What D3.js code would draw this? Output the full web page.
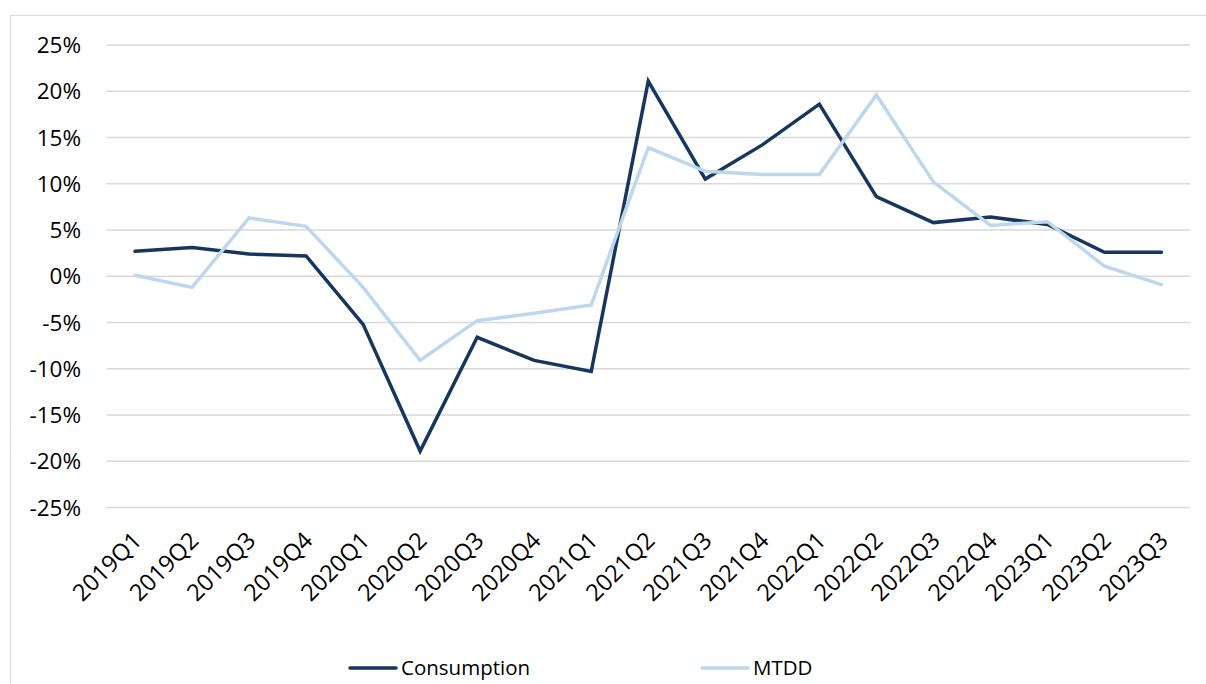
<!DOCTYPE html>
<html><head><meta charset="utf-8">
<script src="https://cdn.jsdelivr.net/npm/d3@7/dist/d3.min.js"></script>
<style>body{margin:0;background:#fff}svg{display:block}</style>
</head><body>
<svg id="c" width="1206" height="684"></svg>
<script>
const categories = ["2019Q1","2019Q2","2019Q3","2019Q4","2020Q1","2020Q2","2020Q3","2020Q4","2021Q1","2021Q2","2021Q3","2021Q4","2022Q1","2022Q2","2022Q3","2022Q4","2023Q1","2023Q2","2023Q3"];
const consumption = [2.7,3.1,2.4,2.2,-5.2,-18.9,-6.6,-9.1,-10.3,21.1,10.5,14.2,18.6,8.6,5.8,6.4,5.6,2.6,2.6];
const mtdd = [0.1,-1.2,6.3,5.4,-1.2,-9.1,-4.8,-4.0,-3.1,13.9,11.35,11.0,11.0,19.6,10.2,5.5,5.9,1.1,-0.9];
const yTicks = [-25,-20,-15,-10,-5,0,5,10,15,20,25];
const seriesNames = ["Consumption","MTDD"];
const colors = ["#17365d","#bdd7ee"];

const svg = d3.select("#c");
const font = "'Open Sans', sans-serif";
svg.append("rect").attr("x",10.5).attr("y",15.5).attr("width",1210).attr("height",700)
  .attr("fill","none").attr("stroke","#d9d9d9").attr("stroke-width",1);

const x = d3.scalePoint().domain(categories).range([106.5,1190]).padding(0.5);
const y = d3.scaleLinear().domain([-25,25]).range([507.5,45]);

const g = svg.append("g");
g.selectAll("line.grid").data(yTicks).join("line")
  .attr("x1",106.5).attr("x2",1190).attr("y1",d=>y(d)).attr("y2",d=>y(d))
  .attr("stroke","#d9d9d9").attr("stroke-width",1.5);

g.selectAll("text.yl").data(yTicks).join("text")
  .attr("x",81).attr("y",d=>y(d)).attr("dy","0.36em").attr("text-anchor","end")
  .attr("font-family",font).attr("font-size",22.5).attr("fill","#000")
  .text(d=>d+"%");

g.selectAll("text.xl").data(categories).join("text")
  .attr("text-anchor","end").attr("font-family",font).attr("font-size",23.5).attr("fill","#000")
  .attr("transform",d=>`translate(${x(d)+8},${542}) rotate(-45)`)
  .text(d=>d);

const line = d3.line().x((d,i)=>x(categories[i])).y(d=>y(d));
[consumption, mtdd].forEach((s,k)=>{
  g.append("path").datum(s).attr("d",line).attr("fill","none")
    .attr("stroke",colors[k]).attr("stroke-width",3.5).attr("stroke-linejoin","miter").attr("stroke-linecap","round");
});

const legX = [350,702];
seriesNames.forEach((n,k)=>{
  svg.append("line").attr("x1",legX[k]).attr("x2",legX[k]+46).attr("y1",668).attr("y2",668)
    .attr("stroke",colors[k]).attr("stroke-width",3.5).attr("stroke-linecap","round");
  svg.append("text").attr("x",legX[k]+51).attr("y",668).attr("dy","0.36em")
    .attr("font-family",font).attr("font-size",20.5).attr("fill","#000").text(n);
});
</script>
</body></html>
